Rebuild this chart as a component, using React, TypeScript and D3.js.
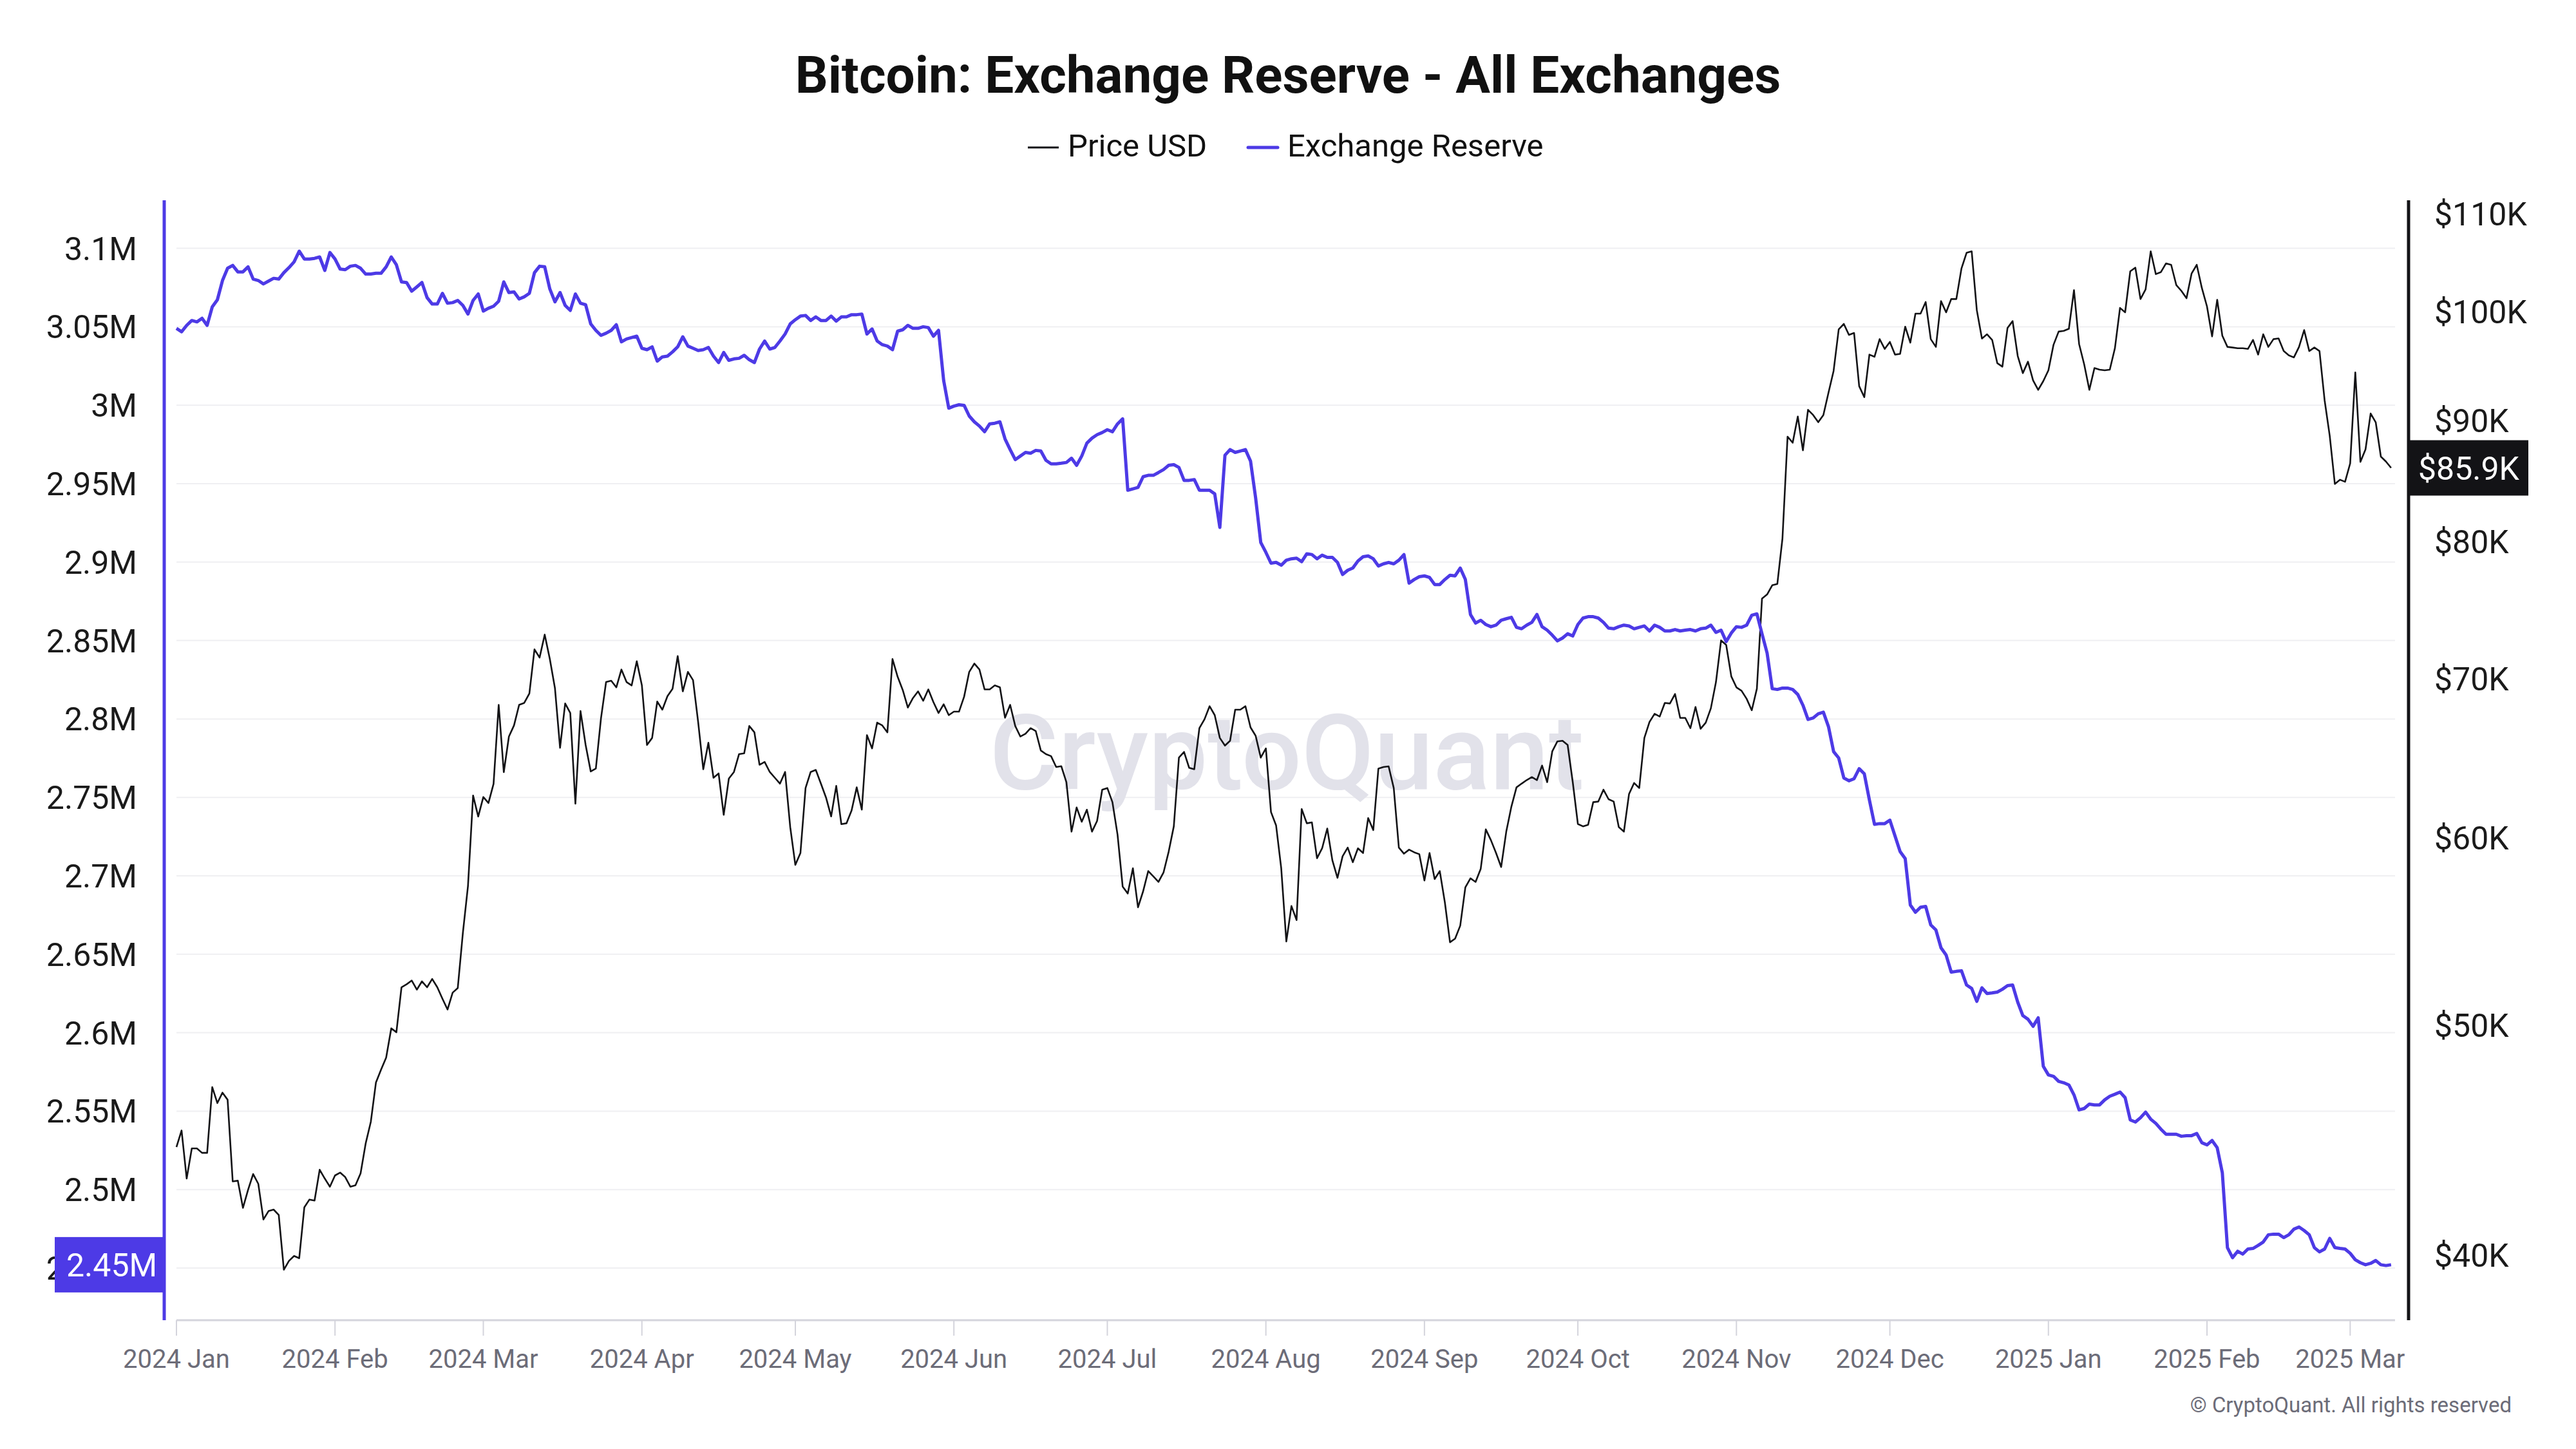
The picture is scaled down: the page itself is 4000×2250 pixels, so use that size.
import React from "react";
import * as d3 from "d3";

// ---------- DATA ----------
const START_DATE = "2024-01-01"; // one value per day

// Bitcoin price (USD, thousands)
const priceUsdK = [
  44.43, 45.15, 43.09, 44.37, 44.37, 44.18, 44.18, 47.09, 46.37, 46.84,
  46.52, 42.97, 43.0, 41.88, 42.62, 43.28, 42.87, 41.41, 41.75, 41.81,
  41.59, 39.44, 39.78, 39.97, 39.88, 41.9, 42.22, 42.18, 43.46, 43.09,
  42.75, 43.22, 43.34, 43.15, 42.75, 42.81, 43.31, 44.59, 45.53, 47.3,
  47.9, 48.46, 49.86, 49.67, 51.89, 52.04, 52.23, 51.77, 52.19, 51.89,
  52.31, 51.89, 51.32, 50.78, 51.62, 51.85, 54.7, 57.26, 62.51, 61.25,
  62.42, 62.06, 63.23, 68.27, 63.95, 66.2, 66.92, 68.27, 68.4, 69.03,
  72.05, 71.48,
  73.09, 71.38, 69.39, 65.48, 68.36, 67.73, 62.02, 67.86, 65.66, 63.99,
  64.17, 67.37, 69.8, 69.89, 69.44, 70.65, 69.8, 69.57, 71.22, 69.57,
  65.66, 66.11, 68.49, 67.95, 68.85, 69.35, 71.58, 69.17, 70.49, 69.93,
  67.14, 64.13, 65.8, 63.6, 63.87, 61.35, 63.55, 63.96, 65.08, 65.13,
  66.88, 66.47, 64.41, 64.59, 63.96, 63.6, 63.24, 63.96, 60.63, 58.44,
  59.12, 62.97, 63.96, 64.09, 63.24, 62.39, 61.26, 63.1, 60.8, 60.85,
  61.61, 63.01, 61.66, 66.29, 65.44, 67.1, 66.92, 66.47, 71.38, 70.16,
  69.26, 68.09, 68.72,
  69.17, 68.54, 69.3, 68.45, 67.73, 68.31, 67.59, 67.82, 67.82, 68.81,
  70.49, 71.06, 70.65, 69.3, 69.3, 69.57, 69.44, 67.42, 68.27, 66.88,
  66.2, 66.38, 66.74, 66.56, 65.31, 65.08, 64.95, 64.27, 64.32, 63.33,
  60.36, 61.79, 60.94, 61.66, 60.36, 60.99, 62.87, 62.97, 62.11, 60.18,
  57.22, 56.84, 58.25, 56.08, 56.96, 58.09, 57.79, 57.48, 58.02, 59.2,
  60.67, 64.86, 65.22, 64.22, 64.13, 66.74, 67.32, 68.18, 67.59, 66.11,
  65.62, 65.93, 67.95, 67.95, 68.18, 66.79, 66.25, 64.86, 65.44, 61.52,
  60.72, 58.25,
  54.25, 56.15, 55.39, 61.7, 60.85, 60.9, 58.82, 59.39, 60.54, 58.7,
  57.71, 58.93, 59.43, 58.59, 59.39, 59.12, 61.16, 60.45, 64.17, 64.27,
  64.31, 62.97, 59.43, 59.08, 59.31, 59.16, 59.05, 57.56, 59.12, 57.64,
  58.09, 56.34, 54.21, 54.4, 55.09, 57.18, 57.68, 57.48, 58.21, 60.49,
  59.86, 59.12, 58.32, 60.36, 61.84, 63.01, 63.24, 63.46, 63.64, 63.46,
  64.36, 63.33, 65.26, 65.89, 65.93, 65.66, 63.33, 60.81, 60.67, 60.76,
  62.11, 62.15, 62.87, 62.29, 62.15, 60.63, 60.36, 62.6, 63.28, 62.97,
  66.11, 67.14, 67.68,
  67.5, 68.4, 68.36, 68.99, 67.41, 67.41, 66.74, 68.13, 66.7, 67.1,
  68.04, 69.8, 72.68, 72.36, 70.18, 69.44, 69.21, 68.67, 67.91, 69.35,
  75.69, 76.0, 76.68, 76.78, 80.24, 88.59, 88.07, 90.34, 87.42, 90.93,
  90.47, 89.84, 90.47, 92.45, 94.43, 98.32, 98.84, 97.79, 97.98, 93.04,
  92.05, 95.94, 95.74, 97.39, 96.47, 97.13, 95.94, 96.01, 98.58, 97.06,
  99.83, 99.83, 100.97, 97.39, 96.66, 101.05, 99.96, 101.26, 101.26, 104.31,
  105.91, 106.06, 100.17, 97.45, 97.85, 97.32, 95.15, 94.82, 98.45, 99.11,
  95.81, 94.23,
  95.28, 93.57, 92.71, 93.5, 94.49, 96.86, 98.11, 98.18, 98.38, 102.14,
  96.93, 95.02, 92.71, 94.69, 94.55, 94.49, 94.55, 96.53, 100.39, 99.96,
  104.03, 104.39, 101.26, 102.21, 106.06, 103.74, 103.95, 104.83, 104.68, 102.65,
  102.06, 101.34, 103.81, 104.68, 102.35, 100.54, 97.65, 101.19, 97.72, 96.66,
  96.6, 96.53, 96.53, 96.47, 97.32, 95.94, 97.85, 96.66, 97.39, 97.46,
  96.27, 95.87, 95.68, 96.66, 98.25, 96.27, 96.6, 96.27, 91.78, 88.67,
  84.61, 84.96, 84.79, 86.32, 94.29, 86.44, 87.5, 90.6, 89.82, 86.89,
  86.47, 85.94,
];

// Exchange reserve (BTC, millions)
const exchangeReserveM = [
  3.049, 3.0468, 3.0509, 3.054, 3.0531, 3.0554, 3.0509, 3.0627, 3.0672, 3.0795,
  3.0873, 3.0891, 3.085, 3.085, 3.0882, 3.0804, 3.0795, 3.0773, 3.0791, 3.0809,
  3.0804, 3.0845, 3.0877, 3.0914, 3.0982, 3.0932, 3.0932, 3.0936, 3.0945, 3.0859,
  3.0973, 3.0932, 3.0868, 3.0864, 3.0886, 3.0891, 3.0873, 3.0836, 3.0836, 3.0841,
  3.0841, 3.0882, 3.0945, 3.0895, 3.0786, 3.0782, 3.0727, 3.0754, 3.0782, 3.0686,
  3.0645, 3.0645, 3.0713, 3.065, 3.0654, 3.0668, 3.0636, 3.0581, 3.0668, 3.0709,
  3.06, 3.0618, 3.0631, 3.0663, 3.0786, 3.0718, 3.0722, 3.0677, 3.0691, 3.0713,
  3.0845, 3.0886,
  3.0882, 3.0741, 3.0659, 3.0718, 3.0636, 3.0604, 3.0709, 3.065, 3.0641, 3.0518,
  3.0477, 3.0445, 3.0459, 3.0477, 3.0513, 3.0404, 3.0422, 3.0431, 3.044, 3.0363,
  3.0354, 3.0372, 3.0281, 3.0308, 3.0313, 3.034, 3.0372, 3.0436, 3.0377, 3.0363,
  3.0349, 3.0354, 3.0368, 3.0313, 3.0272, 3.0336, 3.0286, 3.0295, 3.0299, 3.0318,
  3.029, 3.0272, 3.0358, 3.0409, 3.0358, 3.0368, 3.0409, 3.0454, 3.0518, 3.0545,
  3.0568, 3.0572, 3.054, 3.0563, 3.054, 3.054, 3.0568, 3.0536, 3.0563, 3.0563,
  3.0577, 3.0577, 3.0581, 3.0454, 3.0486, 3.0409, 3.0386, 3.0377, 3.0354, 3.0472,
  3.0481, 3.0509, 3.049,
  3.049, 3.05, 3.0495, 3.044, 3.0477, 3.0158, 2.9981, 2.9994, 3.0003, 2.9999,
  2.9931, 2.9894, 2.9867, 2.9831, 2.9881, 2.9885, 2.9894, 2.9785, 2.9717, 2.9653,
  2.9676, 2.9699, 2.9694, 2.9712, 2.9708, 2.9649, 2.9626, 2.9626, 2.963, 2.9635,
  2.9662, 2.9617, 2.9676, 2.9758, 2.979, 2.9812, 2.9826, 2.9844, 2.9831, 2.9881,
  2.9913, 2.9458, 2.9467, 2.9476, 2.9544, 2.9553, 2.9553, 2.9571, 2.959, 2.9617,
  2.9621, 2.9603, 2.9521, 2.9521, 2.9526, 2.9458, 2.9458, 2.9458, 2.9435, 2.9221,
  2.9681, 2.9717, 2.9699, 2.9708, 2.9717, 2.9644, 2.9408, 2.9125, 2.9062, 2.8993,
  2.8998, 2.898,
  2.9012, 2.9021, 2.9025, 2.9003, 2.9053, 2.9048, 2.9021, 2.9044, 2.903, 2.903,
  2.8998, 2.8921, 2.8948, 2.8962, 2.9007, 2.9034, 2.9039, 2.9021, 2.8975, 2.8989,
  2.8998, 2.8989, 2.9012, 2.9048, 2.8866, 2.8889, 2.8907, 2.8912, 2.8902, 2.8857,
  2.8857, 2.8889, 2.8916, 2.8912, 2.8962, 2.8889, 2.8666, 2.8611, 2.8629, 2.8602,
  2.8588, 2.8598, 2.8629, 2.8639, 2.8648, 2.8584, 2.8575, 2.8598, 2.8616, 2.8666,
  2.8588, 2.8566, 2.8534, 2.8498, 2.8516, 2.8543, 2.8529, 2.8602, 2.8643, 2.8652,
  2.8652, 2.8643, 2.8616, 2.8579, 2.8575, 2.8588, 2.8598, 2.8593, 2.8575, 2.8584,
  2.8593, 2.8561, 2.8598,
  2.8584, 2.8561, 2.8561, 2.857, 2.8561, 2.8566, 2.857, 2.8561, 2.8575, 2.8579,
  2.8598, 2.8552, 2.8566, 2.8493, 2.8548, 2.8588, 2.8584, 2.8598, 2.8661, 2.867,
  2.8543, 2.842, 2.8193, 2.8188, 2.8197, 2.8197, 2.8188, 2.8156, 2.8088, 2.7997,
  2.8006, 2.8033, 2.8043, 2.7951, 2.7792, 2.7751, 2.7624, 2.7606, 2.7619, 2.7683,
  2.7651, 2.7483, 2.7328, 2.7333, 2.7333, 2.7355, 2.7255, 2.7155, 2.711, 2.6814,
  2.6768, 2.68, 2.6805, 2.6687, 2.6655, 2.6541, 2.6495, 2.6386, 2.6391, 2.6395,
  2.6304, 2.6282, 2.62, 2.6286, 2.625, 2.6254, 2.6259, 2.6277, 2.63, 2.6304,
  2.6195, 2.6109,
  2.6086, 2.6041, 2.6095, 2.5786, 2.5731, 2.5722, 2.569, 2.5681, 2.5667, 2.5604,
  2.5508, 2.5517, 2.5545, 2.554, 2.554, 2.5572, 2.5595, 2.5608, 2.5622, 2.5586,
  2.5444, 2.5431, 2.5458, 2.5494, 2.5449, 2.5422, 2.5385, 2.5353, 2.5353, 2.5353,
  2.534, 2.5344, 2.5344, 2.5358, 2.5299, 2.5285, 2.5313, 2.5267, 2.5108, 2.463,
  2.4566, 2.4607, 2.4589, 2.4621, 2.4625, 2.4644, 2.4666, 2.4712, 2.4716, 2.4716,
  2.4694, 2.4712, 2.4748, 2.4762, 2.4739, 2.4712, 2.463, 2.4603, 2.4621, 2.4689,
  2.463, 2.4625, 2.4621, 2.4594, 2.4553, 2.4534, 2.4521, 2.453, 2.4548, 2.4521,
  2.4516, 2.4521,
];

const reserveTicks = [3.1, 3.05, 3.0, 2.95, 2.9, 2.85, 2.8, 2.75, 2.7, 2.65, 2.6, 2.55, 2.5, 2.45];
const priceTicks = [40, 50, 60, 70, 80, 90, 100, 110];
const monthTicks = [
  "2024-01-01", "2024-02-01", "2024-03-01", "2024-04-01", "2024-05-01",
  "2024-06-01", "2024-07-01", "2024-08-01", "2024-09-01", "2024-10-01",
  "2024-11-01", "2024-12-01", "2025-01-01", "2025-02-01", "2025-03-01",
];
const seriesNames = ["Price USD", "Exchange Reserve"];
const TITLE = "Bitcoin: Exchange Reserve - All Exchanges";

// ---------- STYLE ----------
const W = 4000;
const H = 2250;
const PURPLE = "#4d3ae6";
const BLACK = "#131316";
const FONT = "Roboto, 'Noto Sans', Arial, sans-serif";

const PLOT_TOP = 311;
const PLOT_BOTTOM = 2050;
const X_LEFT = 274;
const X_RIGHT_AXIS_END = 3719;
const LEFT_AXIS_X = 255;
const RIGHT_AXIS_X = 3740;

export default function App() {
  const start = new Date(START_DATE + "T00:00:00Z");
  const dates = priceUsdK.map((_, i) => d3.utcDay.offset(start, i));
  const lastIdx = priceUsdK.length - 1;

  const x = d3
    .scaleUtc()
    .domain([start, dates[lastIdx]])
    .range([X_LEFT, X_LEFT + 7.942 * lastIdx]);

  const yL = d3.scaleLinear().domain([2.45, 3.1]).range([1969, 385.6]);
  const yR = d3.scaleLog().domain([40, 110]).range([1949, 332]);

  const priceLine = d3
    .line<number>()
    .x((_, i) => x(dates[i]))
    .y((d) => yR(d));
  const reserveLine = d3
    .line<number>()
    .x((_, i) => x(dates[i]))
    .y((d) => yL(d));

  const fmtMonth = d3.utcFormat("%Y %b");
  const fmtReserve = (v: number) => `${+v.toFixed(2)}M`;
  const fmtPrice = (v: number) => `$${v}K`;

  const lastReserve = exchangeReserveM[lastIdx];
  const lastPrice = priceUsdK[lastIdx];
  const lrY = yL(lastReserve);
  const lpY = yR(lastPrice);

  return (
    <svg
      width={W}
      height={H}
      viewBox={`0 0 ${W} ${H}`}
      style={{ position: "fixed", left: 0, top: 0, background: "#fff" }}
      fontFamily={FONT}
    >
      <rect x={0} y={0} width={W} height={H} fill="#ffffff" />

      {/* Title */}
      <text x={2000} y={144} textAnchor="middle" fontSize={80} fontWeight={700} fill="#111">
        {TITLE}
      </text>

      {/* Legend */}
      <line x1={1596} x2={1644} y1={229} y2={229} stroke={BLACK} strokeWidth={3} />
      <text x={1658} y={243} fontSize={49} fill="#111">{seriesNames[0]}</text>
      <line x1={1938} x2={1984} y1={229} y2={229} stroke={PURPLE} strokeWidth={5} strokeLinecap="round" />
      <text x={1999} y={243} fontSize={49} fill="#111">{seriesNames[1]}</text>

      {/* Gridlines */}
      {reserveTicks.map((t) => (
        <line key={"g" + t} x1={X_LEFT} x2={X_RIGHT_AXIS_END} y1={yL(t)} y2={yL(t)} stroke="#efeff2" strokeWidth={2} />
      ))}

      {/* Watermark */}
      <text x={1998} y={1225} textAnchor="middle" fontSize={164} fontWeight={500} fill="#e2e2ea">
        CryptoQuant
      </text>

      {/* X axis */}
      <line x1={X_LEFT} x2={X_RIGHT_AXIS_END} y1={PLOT_BOTTOM} y2={PLOT_BOTTOM} stroke="#d4d4dc" strokeWidth={3} />
      {monthTicks.map((m) => {
        const d = new Date(m + "T00:00:00Z");
        const px = x(d);
        return (
          <g key={m}>
            <line x1={px} x2={px} y1={PLOT_BOTTOM} y2={2074} stroke="#d4d4dc" strokeWidth={2} />
            <text x={px} y={2124} textAnchor="middle" fontSize={40} fill="#6c6c78">
              {fmtMonth(d)}
            </text>
          </g>
        );
      })}

      {/* Series */}
      <path d={priceLine(priceUsdK) || ""} fill="none" stroke={BLACK} strokeWidth={2.6} strokeLinejoin="round" />
      <path d={reserveLine(exchangeReserveM) || ""} fill="none" stroke={PURPLE} strokeWidth={5} strokeLinejoin="round" />

      {/* Left axis */}
      <line x1={LEFT_AXIS_X} x2={LEFT_AXIS_X} y1={PLOT_TOP} y2={PLOT_BOTTOM} stroke={PURPLE} strokeWidth={5} />
      {reserveTicks.map((t) => (
        <text key={"l" + t} x={213} y={yL(t)} dy="0.36em" textAnchor="end" fontSize={50} fill="#1a1a1a">
          {fmtReserve(t)}
        </text>
      ))}

      {/* Right axis */}
      <line x1={RIGHT_AXIS_X} x2={RIGHT_AXIS_X} y1={PLOT_TOP} y2={PLOT_BOTTOM} stroke={BLACK} strokeWidth={5} />
      {priceTicks.map((t) => (
        <text key={"r" + t} x={3780} y={yR(t)} dy="0.36em" fontSize={50} fill="#1a1a1a">
          {fmtPrice(t)}
        </text>
      ))}

      {/* Last-value badges */}
      <rect x={85} y={lrY - 43} width={LEFT_AXIS_X - 85} height={86} fill={PURPLE} />
      <text x={103} y={lrY} dy="0.36em" fontSize={50} fill="#fff">
        {fmtReserve(lastReserve)}
      </text>
      <rect x={RIGHT_AXIS_X} y={lpY - 43} width={186} height={86} fill={BLACK} />
      <text x={3755} y={lpY} dy="0.36em" fontSize={50} fill="#fff">
        {`$${lastPrice.toFixed(1)}K`}
      </text>

      {/* Copyright */}
      <text x={3900} y={2193} textAnchor="end" fontSize={33} fill="#6c6c78">
        © CryptoQuant. All rights reserved
      </text>
    </svg>
  );
}
